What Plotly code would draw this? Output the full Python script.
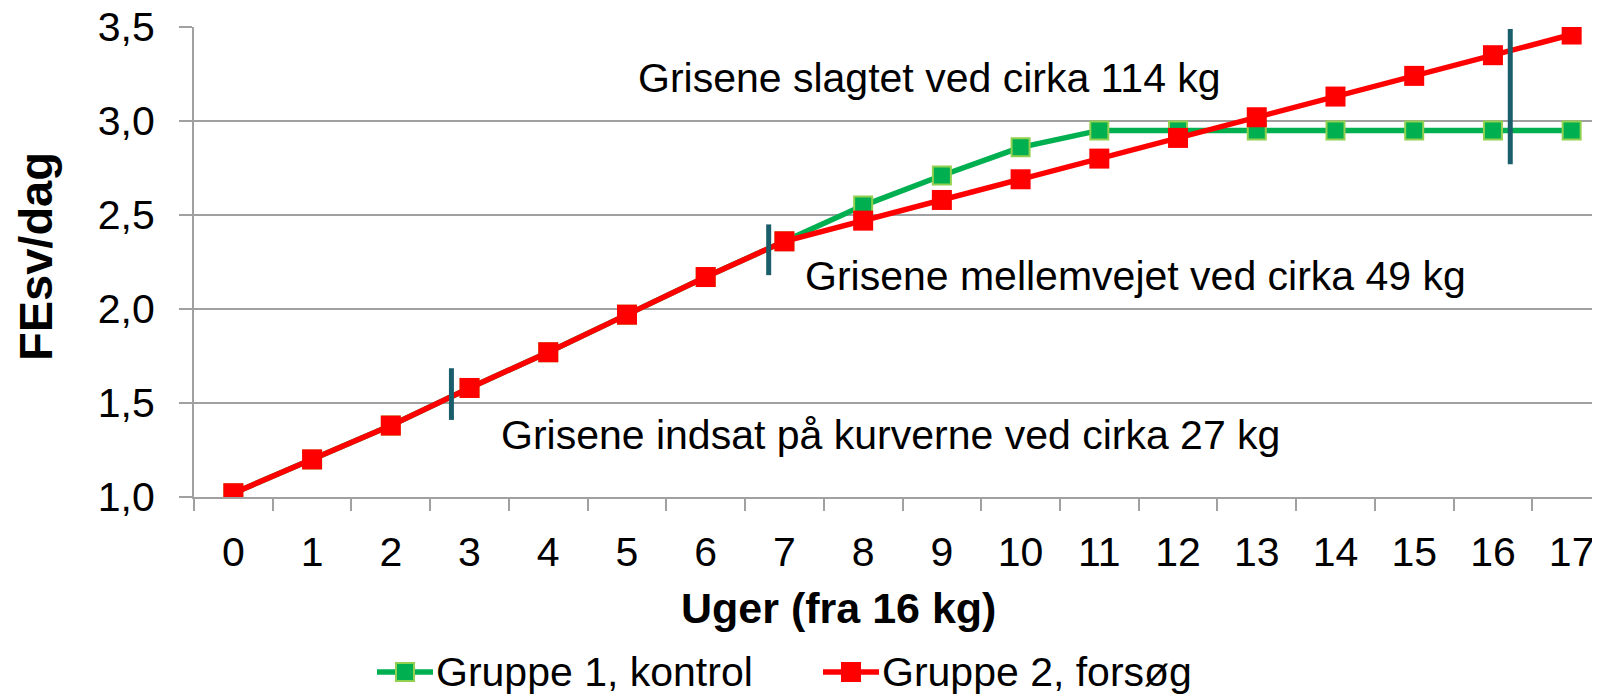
import plotly.graph_objects as go

# ---- data ----
weeks = [str(i) for i in range(18)]
gruppe1 = [1.02, 1.20, 1.38, 1.58, 1.77, 1.97, 2.17, 2.36, 2.55, 2.71, 2.86, 2.95,
           2.95, 2.95, 2.95, 2.95, 2.95, 2.95]
gruppe2 = [1.02, 1.20, 1.38, 1.58, 1.77, 1.97, 2.17, 2.36, 2.47, 2.58, 2.69, 2.80,
           2.91, 3.02, 3.13, 3.24, 3.35, 3.46]
series_names = ["Gruppe 1, kontrol", "Gruppe 2, forsøg"]
series_colors = ["#00B050", "#FF0000"]
series_edge = ["#92D050", "#FF0000"]

# event markers (category-index position, y from, y to) and their labels
event_x = [2.77, 6.80, 16.22]
event_y0 = [1.41, 2.18, 2.77]
event_y1 = [1.685, 2.45, 3.49]
note_text = ["Grisene indsat på kurverne ved cirka 27 kg",
             "Grisene mellemvejet ved cirka 49 kg",
             "Grisene slagtet ved cirka 114 kg"]
note_x = [3.37, 7.23, 5.11]
note_y = [1.33, 2.173, 3.231]

y_ticks = [1.0, 1.5, 2.0, 2.5, 3.0, 3.5]

FONT = "Liberation Sans, Arial, sans-serif"
GRID = "#A0A0A0"
TEAL = "#1A5E6B"

# the page body has an 8px margin: the figure starts at screen (8, 8)
OFF = 8
W, H = 1600 - OFF, 694 - OFF
ML, MR, MT, MB = 194 - OFF, 0, 27 - OFF, 197
PW, PH = W - ML - MR, H - MT - MB


def px(x):  # screen pixel x -> paper x
    return (x - OFF - ML) / PW


def py(y):  # screen pixel y (from top) -> paper y
    return (H - MB - (y - OFF)) / PH


fig = go.Figure()
fig.add_trace(go.Scatter(
    x=weeks, y=gruppe1, name=series_names[0], mode="lines+markers",
    line=dict(color=series_colors[0], width=5.5),
    marker=dict(symbol="square", size=18, color=series_colors[0],
                line=dict(color=series_edge[0], width=2)),
    showlegend=False,
))
fig.add_trace(go.Scatter(
    x=weeks, y=gruppe2, name=series_names[1], mode="lines+markers",
    line=dict(color=series_colors[1], width=5.5),
    marker=dict(symbol="square", size=20, color=series_colors[1],
                line=dict(color=series_edge[1], width=0)),
    showlegend=False,
))

for xv, a, b in zip(event_x, event_y0, event_y1):
    fig.add_shape(type="line", xref="x", yref="y", x0=xv, x1=xv, y0=a, y1=b,
                  line=dict(color=TEAL, width=5), layer="above")

for t, xv, yv in zip(note_text, note_x, note_y):
    fig.add_annotation(x=xv, y=yv, xref="x", yref="y", text=t, showarrow=False,
                       xanchor="left", yanchor="middle",
                       font=dict(family=FONT, size=41, color="#000000"))

# axis titles
fig.add_annotation(x=px(838), y=py(608), xref="paper", yref="paper",
                   text="<b>Uger (fra 16 kg)</b>", showarrow=False,
                   xanchor="center", yanchor="middle",
                   font=dict(family=FONT, size=43, color="#000000"))
fig.add_annotation(x=px(35), y=py(257), xref="paper", yref="paper",
                   text="<b>FEsv/dag</b>", showarrow=False, textangle=-90,
                   xanchor="center", yanchor="middle",
                   font=dict(family=FONT, size=47, color="#000000"))

# legend (drawn by hand to match the long line-with-marker key)
leg_y = 672
leg_start = [377, 823]
for i in range(2):
    x0 = leg_start[i]
    fig.add_shape(type="line", xref="paper", yref="paper",
                  x0=px(x0), x1=px(x0 + 56), y0=py(leg_y), y1=py(leg_y),
                  line=dict(color=series_colors[i], width=5.5))
    s = 9 if i == 0 else 10
    fig.add_shape(type="rect", xref="paper", yref="paper",
                  x0=px(x0 + 28 - s), x1=px(x0 + 28 + s),
                  y0=py(leg_y + s), y1=py(leg_y - s),
                  fillcolor=series_colors[i],
                  line=dict(color=series_edge[i], width=2 if i == 0 else 0))
    fig.add_annotation(x=px(x0 + 57), y=py(leg_y), xref="paper", yref="paper",
                       text=series_names[i], showarrow=False,
                       xanchor="left", yanchor="middle",
                       font=dict(family=FONT, size=41, color="#000000"))

fig.update_layout(
    width=W, height=H,
    margin=dict(l=ML, r=MR, t=MT, b=MB, pad=0),
    paper_bgcolor="white", plot_bgcolor="white",
    separators=",.",
    font=dict(family=FONT, size=41, color="#000000"),
    showlegend=False,
    xaxis=dict(type="category", categoryorder="array", categoryarray=weeks,
               range=[-0.5, 17.36], tickson="boundaries", ticks="outside",
               ticklen=12, tickwidth=2, tickcolor=GRID,
               showline=True, linecolor=GRID, linewidth=2,
               showgrid=False, zeroline=False, ticklabelstandoff=18,
               automargin=False, ticklabeloverflow="allow",
               tickfont=dict(family=FONT, size=41, color="#000000")),
    yaxis=dict(range=[1.0, 3.5], tickvals=y_ticks, tickformat=".1f",
               ticks="outside", ticklen=13, tickwidth=2, tickcolor=GRID,
               showline=True, linecolor=GRID, linewidth=2,
               showgrid=True, gridcolor=GRID, gridwidth=2, zeroline=False,
               ticklabelstandoff=16, automargin=False,
               ticklabeloverflow="allow",
               tickfont=dict(family=FONT, size=41, color="#000000")),
)

fig.write_html("out.html")
